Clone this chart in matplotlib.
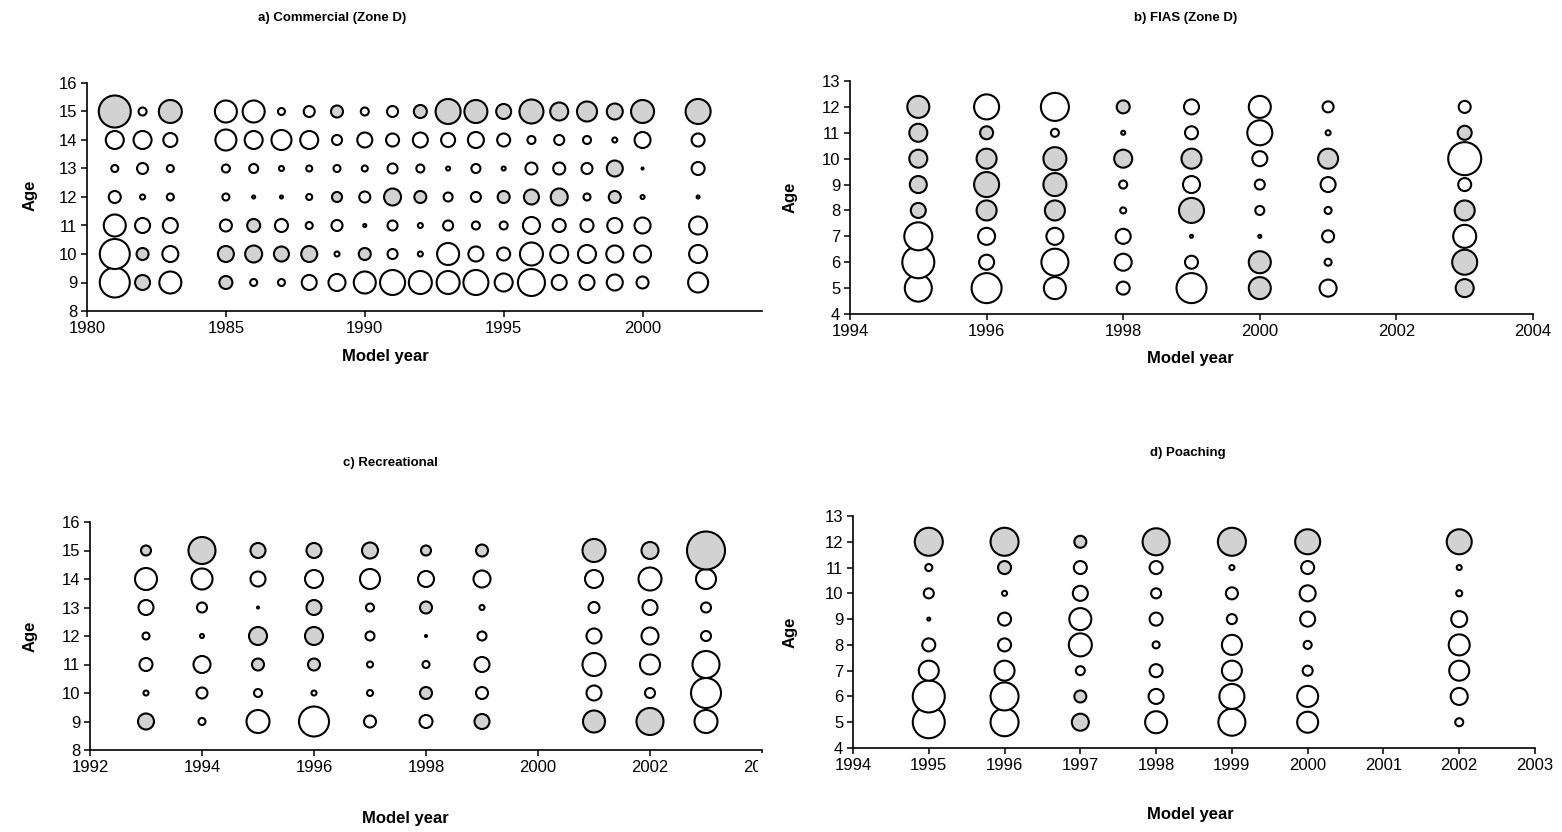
import numpy as np
import matplotlib
matplotlib.use("Agg")
import matplotlib.pyplot as plt
from matplotlib.patches import Rectangle

plt.rcParams['font.family'] = ['Liberation Sans', 'DejaVu Sans']

# residuals: positive = open circle, negative = grey circle
years_a = [1981, 1982, 1983, 1985, 1986, 1987, 1988, 1989, 1990, 1991, 1992,
           1993, 1994, 1995, 1996, 1997, 1998, 1999, 2000, 2002]
ages_a = [9, 10, 11, 12, 13, 14, 15]
res_a = [
    [3.0, -1.5, 2.2, -1.3, 0.7, 0.7, 1.5, 1.7, 2.2, 2.5, 2.3, 2.3, 2.5, 1.8, 2.7, 1.5, 1.5, 1.6, 1.2, 2.0],
    [3.0, -1.2, 1.6, -1.6, -1.7, -1.5, -1.6, 0.5, -1.2, 1.0, 0.5, 2.2, 1.5, 1.3, 2.3, 1.8, 1.8, 1.7, 1.7, 1.8],
    [2.2, 1.5, 1.5, 1.2, -1.3, 1.3, 0.7, 1.1, 0.3, 1.0, 0.5, 1.0, 0.8, 0.8, 1.7, 1.3, 1.3, 1.5, 1.6, 1.8],
    [1.2, 0.5, 0.7, 0.7, 0.3, 0.3, 0.6, -1.0, 1.1, -1.7, -1.2, 0.9, 1.0, -1.2, -1.5, -1.7, 0.7, -1.2, 0.4, 0.3],
    [0.7, 1.1, 0.7, 0.8, 0.9, 0.5, 0.6, 0.7, 0.6, 1.0, 0.8, 0.4, 0.9, 0.4, 1.2, 1.2, 1.1, -1.6, 0.2, 1.3],
    [1.8, 1.8, 1.4, 2.1, 1.8, 2.0, 1.8, 1.0, 1.5, 1.3, 1.5, 1.4, 1.6, 1.3, 0.8, 1.0, 0.8, 0.5, 1.6, 1.3],
    [-3.2, 0.8, -2.3, 2.2, 2.2, 0.7, 1.1, -1.2, 0.8, 1.1, -1.3, -2.5, -2.3, -1.5, -2.4, -1.8, -2.0, -1.6, -2.3, -2.5],
]

years_b = [1995, 1996, 1997, 1998, 1999, 2000, 2001, 2003]
ages_b = [5, 6, 7, 8, 9, 10, 11, 12]
res_b = [
    [2.7, 3.0, 2.2, 1.3, 3.0, -2.2, 1.7, -1.8],
    [3.2, 1.5, 2.7, 1.7, 1.3, -2.2, 0.7, -2.5],
    [2.8, 1.7, 1.7, 1.5, 0.3, 0.3, 1.2, 2.3],
    [-1.5, -2.0, -2.0, 0.6, -2.5, 0.9, 0.7, -2.0],
    [-1.7, -2.5, -2.3, 0.8, 1.7, 1.0, 1.5, 1.3],
    [-1.8, -2.0, -2.3, -1.8, -2.0, 1.5, -2.0, 3.3],
    [-1.8, -1.3, 0.8, 0.4, 1.3, 2.5, 0.5, -1.4],
    [-2.2, 2.5, 2.8, -1.3, 1.5, 2.2, 1.1, 1.2],
]

years_c = [1993, 1994, 1995, 1996, 1997, 1998, 1999, 2001, 2002, 2003]
ages_c = [9, 10, 11, 12, 13, 14, 15]
res_c = [
    [-1.6, 0.7, 2.3, 3.0, 1.2, 1.3, -1.5, -2.2, -2.7, 2.3],
    [0.5, 1.1, 0.8, 0.5, 0.6, -1.2, 1.2, 1.5, 1.0, 3.0],
    [1.3, 1.7, -1.2, -1.2, 0.6, 0.7, 1.5, 2.3, 2.0, 2.7],
    [0.7, 0.4, -1.8, -1.8, 0.9, 0.2, 0.9, 1.5, 1.7, 1.0],
    [1.5, 1.0, 0.2, -1.5, 0.8, -1.2, 0.5, 1.1, 1.5, 1.0],
    [2.2, 2.1, 1.5, 1.8, 2.0, 1.6, 1.7, 1.8, 2.3, 2.0],
    [-1.0, -2.7, -1.5, -1.5, -1.6, -1.0, -1.2, -2.3, -1.7, -3.8],
]

years_d = [1995, 1996, 1997, 1998, 1999, 2000, 2002]
ages_d = [5, 6, 7, 8, 9, 10, 11, 12]
res_d = [
    [3.2, 2.8, -1.7, 2.2, 2.7, 2.1, 0.8],
    [3.2, 2.8, -1.2, 1.5, 2.5, 2.1, 1.7],
    [2.0, 2.0, 0.9, 1.3, 2.0, 1.0, 2.0],
    [1.3, 1.3, 2.3, 0.7, 2.0, 0.8, 2.1],
    [0.3, 1.3, 2.2, 1.3, 1.0, 1.5, 1.6],
    [1.0, 0.5, 1.5, 1.0, 1.2, 1.6, 0.6],
    [0.7, -1.3, 1.3, 1.3, 0.5, 1.3, 0.5],
    [-2.8, -2.8, -1.2, -2.7, -2.8, -2.5, -2.5],
]

W, H = 1562, 832
DPI = 100
fig = plt.figure(figsize=(W / DPI, H / DPI), dpi=DPI)
fig.patch.set_facecolor('white')


def add_ax(x0, x1, y_top, y_bot):
    return fig.add_axes([x0 / W, 1 - y_bot / H, (x1 - x0) / W, (y_bot - y_top) / H])


def bubbles(ax, years, ages, res, xlim, xticks, ylim):
    r = np.array(res)
    X, Y = np.meshgrid(years, ages)
    d_px = np.abs(r) * 10.0
    s = (d_px * 72.0 / DPI) ** 2
    cols = np.where(r < 0, '#d2d2d2', 'white')
    ax.scatter(X.ravel(), Y.ravel(), s=s.ravel(), c=cols.ravel(),
               edgecolors='black', linewidths=1.5, zorder=3, clip_on=False)
    ax.set_xlim(*xlim)
    ax.set_ylim(*ylim)
    ax.set_xticks(xticks)
    ax.set_yticks(range(ylim[0], ylim[1] + 1))
    for sp in ['top', 'right']:
        ax.spines[sp].set_visible(False)
    for sp in ['left', 'bottom']:
        ax.spines[sp].set_linewidth(1.2)
    ax.tick_params(direction='out', length=4, width=1.1, labelsize=12, pad=3)
    ax.set_facecolor('none')


ax_a = add_ax(87, 762, 83, 311)
bubbles(ax_a, years_a, ages_a, res_a, (1980, 2004.3), range(1980, 2001, 5), (8, 16))

ax_b = add_ax(850, 1533, 81, 314)
bubbles(ax_b, years_b, ages_b, res_b, (1994, 2004), range(1994, 2005, 2), (4, 13))

ax_c = add_ax(90, 762, 522, 750)
bubbles(ax_c, years_c, ages_c, res_c, (1992, 2004), range(1992, 2005, 2), (8, 16))

ax_d = add_ax(853, 1535, 516, 748)
bubbles(ax_d, years_d, ages_d, res_d, (1994, 2003), range(1994, 2004), (4, 13))

# titles and labels
def ftext(x, y, s, **kw):
    fig.text(x / W, 1 - y / H, s, ha='center', va='center', **kw)

ftext(332, 18, 'a) Commercial (Zone D)', fontsize=9.5, fontweight='bold')
ftext(1186, 18, 'b) FIAS (Zone D)', fontsize=9.5, fontweight='bold')
ftext(390, 463, 'c) Recreational', fontsize=9.5, fontweight='bold')
ftext(1188, 453, 'd) Poaching', fontsize=9.5, fontweight='bold')

ftext(385, 357, 'Model year', fontsize=12, fontweight='bold')
ftext(1190, 358, 'Model year', fontsize=12, fontweight='bold')
ftext(405, 818, 'Model year', fontsize=12, fontweight='bold')
ftext(1190, 815, 'Model year', fontsize=12, fontweight='bold')

ftext(30, 195, 'Age', fontsize=12, fontweight='bold', rotation=90)
ftext(790, 197, 'Age', fontsize=12, fontweight='bold', rotation=90)
ftext(30, 636, 'Age', fontsize=12, fontweight='bold', rotation=90)
ftext(790, 632, 'Age', fontsize=12, fontweight='bold', rotation=90)

# the source picture is cut off just right of panel c's last tick label
fig.patches.append(Rectangle((758 / W, 1 - 790 / H), 27 / W, 37 / H,
                             transform=fig.transFigure, facecolor='white',
                             edgecolor='none', zorder=10))

fig.savefig('out.png', dpi=DPI, facecolor='white')
